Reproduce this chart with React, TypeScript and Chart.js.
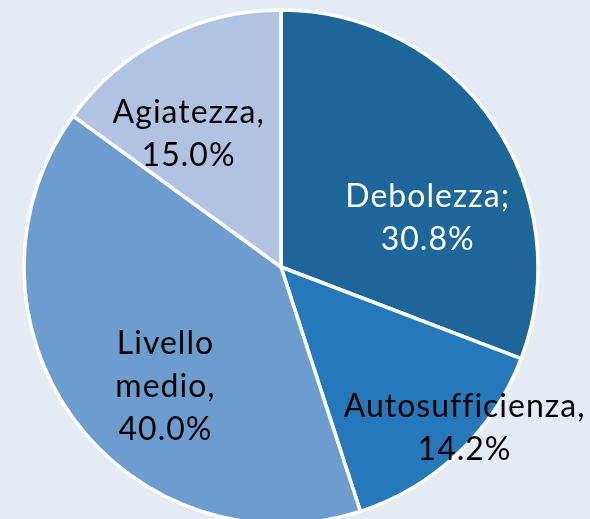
import React, { useEffect, useRef } from "react";
import { Chart, registerables } from "chart.js";

Chart.register(...registerables);

const categories = ["Debolezza", "Autosufficienza", "Livello medio", "Agiatezza"];
const values = [30.8, 14.2, 40.0, 15.0];
const labelLines = [
  ["Debolezza;", "30.8%"],
  ["Autosufficienza,", "14.2%"],
  ["Livello", "medio,", "40.0%"],
  ["Agiatezza,", "15.0%"],
];

const sliceColors = ["#1d6699", "#2579bb", "#6d9dcf", "#b0c4e1"];
const textColors = ["#ffffff", "#000000", "#000000", "#000000"];
// label placement: [angle shift in degrees from mid-angle, radius fraction]
const placement = [
  [16, 0.6],
  [-5, 0.95],
  [-10, 0.65],
  [-8, 0.63],
];

const BG = "#e5ebf4";

const labelPlugin = {
  id: "sliceLabels",
  afterDatasetsDraw(chart: any) {
    const ctx = chart.ctx;
    const meta = chart.getDatasetMeta(0);
    ctx.save();
    ctx.font = "32px Lato";
    try {
      (ctx as any).letterSpacing = "1px";
    } catch (e) {}
    ctx.textAlign = "center";
    ctx.textBaseline = "middle";
    meta.data.forEach((arc: any, i: number) => {
      const p = arc.getProps(["x", "y", "startAngle", "endAngle", "outerRadius"], true);
      const mid = (p.startAngle + p.endAngle) / 2 + (placement[i][0] * Math.PI) / 180;
      const r = p.outerRadius * placement[i][1];
      const cx = p.x + Math.cos(mid) * r;
      const cy = p.y + Math.sin(mid) * r;
      const lines = labelLines[i];
      const lh = 43;
      ctx.fillStyle = textColors[i];
      lines.forEach((t, k) => {
        ctx.fillText(t, cx + 0.5, cy + (k - (lines.length - 1) / 2) * lh);
      });
    });
    ctx.restore();
  },
};

export default function App() {
  const ref = useRef<HTMLCanvasElement>(null);
  useEffect(() => {
    const chart = new Chart(ref.current!, {
      type: "pie",
      data: {
        labels: categories,
        datasets: [
          {
            data: values,
            backgroundColor: sliceColors,
            borderColor: "#ffffff",
            borderWidth: 3.5,
            radius: 257,
          } as any,
        ],
      },
      options: {
        responsive: false,
        animation: false,
        layout: { padding: { left: 0, right: 28, top: 0, bottom: 0 } },
        plugins: { legend: { display: false }, tooltip: { enabled: false } },
      },
      plugins: [labelPlugin],
    });
    return () => chart.destroy();
  }, []);
  return (
    <div
      style={{
        position: "fixed",
        left: 0,
        top: 0,
        width: 590,
        height: 519,
        overflow: "hidden",
        background: BG,
      }}
    >
      <canvas ref={ref} width={590} height={534} style={{ display: "block" }} />
    </div>
  );
}
